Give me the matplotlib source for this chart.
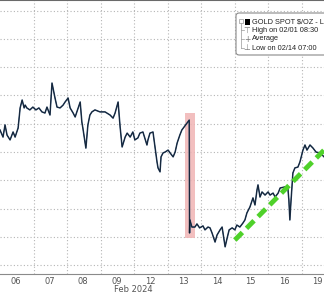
import numpy as np
import matplotlib.pyplot as plt
from matplotlib.patches import Rectangle, FancyBboxPatch

# gold spot, intraday trace (x in trading days from 06 Feb)
days = [0.00, 0.09, 0.15, 0.21, 0.30, 0.39, 0.45, 0.54, 0.60, 0.66, 0.72, 0.75, 0.80,
        0.89, 0.98, 1.07, 1.16, 1.25, 1.34, 1.40, 1.49, 1.55, 1.64, 1.70, 1.79, 1.88,
        1.94, 2.03, 2.09, 2.18, 2.24, 2.33, 2.39, 2.44, 2.47, 2.56, 2.62, 2.68, 2.74,
        2.83, 2.98, 3.13, 3.28, 3.37, 3.43, 3.52, 3.58, 3.64, 3.73, 3.79, 3.88, 3.96,
        4.02, 4.11, 4.17, 4.26, 4.38, 4.41, 4.47, 4.56, 4.62, 4.68, 4.71, 4.77, 4.80,
        4.86, 4.92, 5.01, 5.07, 5.16, 5.22, 5.28, 5.36, 5.42, 5.64, 5.65, 5.66, 5.72,
        5.81, 5.87, 5.95, 6.05, 6.11, 6.20, 6.26, 6.32, 6.41, 6.47, 6.56, 6.62, 6.68,
        6.71, 6.77, 6.83, 6.92, 7.00, 7.06, 7.15, 7.24, 7.30, 7.36, 7.45, 7.54, 7.60,
        7.66, 7.69, 7.75, 7.81, 7.90, 7.99, 8.05, 8.14, 8.20, 8.29, 8.35, 8.50, 8.58,
        8.61, 8.64, 8.67, 8.73, 8.79, 8.88, 8.94, 9.03, 9.09, 9.15, 9.24, 9.33, 9.42,
        9.54, 9.66]
price = [2027.8, 2025.3, 2029.6, 2026.0, 2024.3, 2027.1, 2025.3, 2028.5, 2035.6,
         2038.4, 2035.6, 2036.6, 2035.6, 2034.9, 2035.9, 2034.9, 2035.6, 2034.2, 2033.8,
         2035.9, 2033.1, 2044.4, 2039.1, 2035.9, 2035.6, 2036.6, 2037.7, 2039.1, 2035.6,
         2033.8, 2032.4, 2035.6, 2037.7, 2030.6, 2028.5, 2021.4, 2029.6, 2033.1, 2034.2,
         2034.9, 2034.2, 2034.2, 2033.1, 2032.0, 2033.8, 2037.7, 2028.9, 2021.8, 2025.3,
         2026.7, 2025.3, 2027.1, 2024.3, 2025.0, 2026.7, 2027.1, 2022.5, 2024.3, 2026.7,
         2027.1, 2021.8, 2016.5, 2014.4, 2013.0, 2018.3, 2019.7, 2020.0, 2020.7, 2019.7,
         2018.3, 2020.0, 2023.2, 2026.0, 2027.8, 2031.3, 1991.4, 1996.0, 1993.5, 1993.5,
         1994.6, 1993.2, 1993.9, 1992.5, 1993.5, 1993.2, 1991.4, 1988.2, 1990.7, 1992.5,
         1993.5, 1988.9, 1986.5, 1989.6, 1992.5, 1993.2, 1992.5, 1994.2, 1993.5, 1994.9,
         1996.0, 1998.5, 2000.6, 2003.8, 2001.3, 2006.6, 2008.4, 2004.1, 2005.9, 2004.8,
         2005.9, 2004.8, 2005.5, 2004.1, 2005.5, 2007.3, 2007.7, 2007.3, 2003.1, 1996.0,
         2002.0, 2012.6, 2014.4, 2014.7, 2016.5, 2020.7, 2022.5, 2020.7, 2022.5, 2021.4,
         2020.0, 2019.7, 2018.3]

day_labels = ['06', '07', '08', '09', '12', '13', '14', '15', '16', '19']

# highlighted drop on the 13th and the dashed recovery trend
drop_days = [5.51, 5.81]
drop_prices = [1989.6, 2033.8]
trend_days = [7.00, 9.66]
trend_prices = [1988.9, 2020.7]

legend_lines = ['GOLD SPOT $/OZ - Last', 'High on 02/01 08:30', 'Average', 'Low on 02/14 07:00']

W, H = 324, 293
fig = plt.figure(figsize=(W / 100, H / 100), dpi=100)
fig.patch.set_facecolor('white')
ax = fig.add_axes([0, 19 / H, 1, 274 / H])

ax.plot(days, price, color='#2a4666', lw=1.1, zorder=3)
ax.plot(days, price, color='#101c2c', lw=0.5, zorder=3)

ax.add_patch(Rectangle((drop_days[0], drop_prices[0]), drop_days[1] - drop_days[0],
                       drop_prices[1] - drop_prices[0], facecolor='#f0b4b4',
                       edgecolor='none', alpha=0.85, zorder=2))
ax.plot(trend_days, trend_prices, color='#4fd12a', lw=3.5, dashes=(2.2, 1.2), zorder=4,
        solid_capstyle='butt')

ax.set_xlim(0, W / 33.55)
ax.set_ylim(1976.9, 2073.75)

ax.set_xticks(np.arange(1, 10))
ax.set_xticklabels([])
ax.set_xticks(np.arange(10) + 0.47, minor=True)
ax.set_xticklabels(day_labels, minor=True, fontsize=6, color='#555555')
ax.set_yticks(np.arange(1980, 2071, 10))
ax.tick_params(which='both', length=0, pad=2, left=False, labelleft=False)
ax.grid(True, which='major', color='#b5b5b5', lw=0.8, linestyle=(0, (1, 2)))

for s in ['left', 'right']:
    ax.spines[s].set_visible(False)
ax.spines['bottom'].set_color('#8a8a8a')
ax.spines['top'].set_color('#6a6a6a')
ax.spines['top'].set_linewidth(1.5)

def fx(px):
    return px / W

def fy(py):
    return 1 - py / H

fig.text(fx(133), fy(290), 'Feb 2024', fontsize=6, color='#555555', ha='center', va='center')

# legend box in the top right corner
box = FancyBboxPatch((fx(236), fy(55)), fx(120), 42 / H, boxstyle='round,pad=0,rounding_size=0.01',
                     transform=fig.transFigure, facecolor='white', edgecolor='#8a8a8a', lw=0.8,
                     zorder=10)
fig.patches.append(box)
rows = [22, 30, 39, 48]
fig.lines.append(plt.Line2D([fx(241), fx(241)], [fy(20), fy(48)], transform=fig.transFigure,
                            color='#999999', lw=0.5, zorder=11))
fig.patches.append(Rectangle((fx(239), fy(23)), 4 / W, 4 / H, transform=fig.transFigure,
                             facecolor='white', edgecolor='#999999', lw=0.5, zorder=12))
fig.patches.append(Rectangle((fx(245), fy(25)), 5 / W, 6 / H, transform=fig.transFigure,
                             facecolor='black', edgecolor='none', zorder=12))
for r, sym in zip(rows[1:], ['⊤', '+', '⊥']):
    fig.lines.append(plt.Line2D([fx(241), fx(244)], [fy(r), fy(r)], transform=fig.transFigure,
                                color='#999999', lw=0.5, zorder=11))
    fig.text(fx(247), fy(r), sym, fontsize=5.5, color='#777777', ha='center', va='center', zorder=12)
for r, t in zip(rows, legend_lines):
    fig.text(fx(252), fy(r), t, fontsize=5.3, family='Liberation Sans', color='#222222',
             ha='left', va='center', zorder=12, clip_on=True)

fig.savefig('out.png', dpi=100)
